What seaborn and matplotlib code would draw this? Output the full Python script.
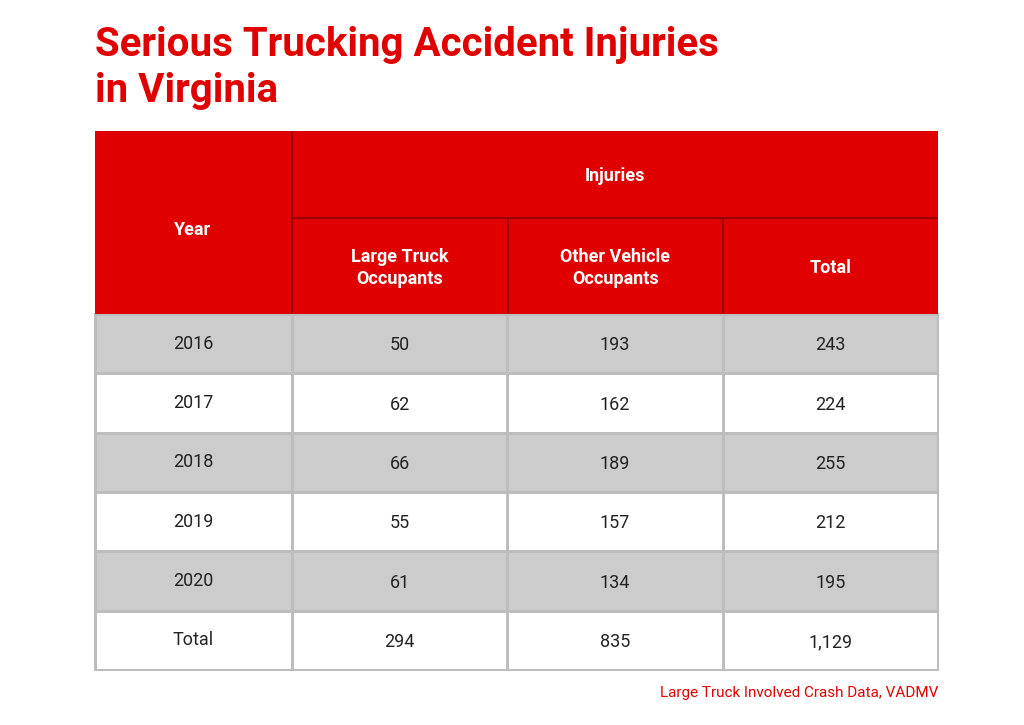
import matplotlib
matplotlib.use("Agg")
import matplotlib.pyplot as plt
import seaborn as sns
import numpy as np
from matplotlib.patches import Rectangle

years = ["2016", "2017", "2018", "2019", "2020", "Total"]
large_truck = [50, 62, 66, 55, 61, 294]
other_vehicle = [193, 162, 189, 157, 134, 835]
total = [243, 224, 255, 212, 195, 1129]
col_labels = ["Large Truck\nOccupants", "Other Vehicle\nOccupants", "Total"]

RED = "#E00000"
GRAY = "#CCCCCC"
LINE = "#BDBDBD"
W, H = 1024, 725

sns.set_theme(style="white")
fig = plt.figure(figsize=(W / 100, H / 100), dpi=100)
fig.patch.set_facecolor("white")

def fx(x): return x / W
def fy(y): return 1 - y / H

font = "Roboto"
fig.text(fx(95), fy(45), "Serious Trucking Accident Injuries", color=RED, fontsize=29,
         fontweight="bold", family=font, va="center", ha="left")
fig.text(fx(95), fy(91), "in Virginia", color=RED, fontsize=29,
         fontweight="bold", family=font, va="center", ha="left")

# Body heatmap for numeric columns
vals = np.array([large_truck, other_vehicle, total]).T
stripe = np.array([[1 if i % 2 == 0 and i < 5 else 0] * 3 for i in range(len(years))])
annot = np.array([[f"{v:,}" for v in row] for row in vals])
ax = fig.add_axes([fx(292), fy(670), fx(938 - 292), (670 - 314) / H])
sns.heatmap(stripe, ax=ax, cmap=matplotlib.colors.ListedColormap(["white", GRAY]),
            vmin=0, vmax=1, cbar=False, annot=annot, fmt="",
            annot_kws={"fontsize": 13, "color": "#222222", "family": font},
            linewidths=0.8, linecolor=LINE, xticklabels=False, yticklabels=False)
for t in ax.texts:
    x, y = t.get_position()
    t.set_position((x, y + 0.03))
ax.add_patch(Rectangle((0, 0), 3, len(years), fill=False, edgecolor=LINE, lw=1.5, clip_on=False))

# Year column
ax2 = fig.add_axes([fx(95), fy(670), fx(292 - 95), (670 - 314) / H])
sns.heatmap(stripe[:, :1], ax=ax2, cmap=matplotlib.colors.ListedColormap(["white", GRAY]),
            vmin=0, vmax=1, cbar=False, annot=np.array(years)[:, None], fmt="",
            annot_kws={"fontsize": 13, "color": "#222222", "family": font},
            linewidths=0.8, linecolor=LINE, xticklabels=False, yticklabels=False)
for t in ax2.texts:
    x, y = t.get_position()
    t.set_position((x, y))
ax2.add_patch(Rectangle((0, 0), 1, len(years), fill=False, edgecolor=LINE, lw=1.5, clip_on=False))

# Header
hax = fig.add_axes([fx(95), fy(314), fx(938 - 95), (314 - 131) / H])
hax.set_xlim(95, 938)
hax.set_ylim(314, 131)
hax.axis("off")
hax.add_patch(Rectangle((95, 131), 843, 183, color=RED))
edges = [292, 508, 723]
for e in edges:
    top = 131 if e == 292 else 218
    hax.plot([e, e], [top, 314], color="#9A0000", lw=1.5)
hax.plot([292, 938], [218, 218], color="#9A0000", lw=1.5)
hs = dict(color="white", fontsize=13, fontweight="bold", family=font, ha="center", va="center")
hax.text(193, 230, "Year", **hs)
hax.text(615, 176, "Injuries", **hs)
bounds = [292, 508, 723, 938]
for i, lab in enumerate(col_labels):
    hax.text((bounds[i] + bounds[i + 1]) / 2, 268, lab, linespacing=1.3, **hs)

fig.text(fx(938), fy(693), "Large Truck Involved Crash Data, VADMV", color=RED,
         fontsize=11, family=font, ha="right", va="center")

fig.savefig("out.png", dpi=100)
